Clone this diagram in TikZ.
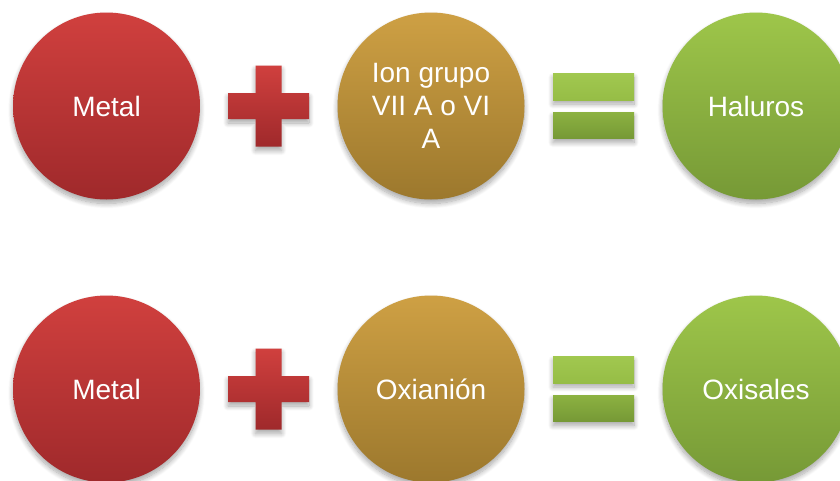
\documentclass[tikz,border=0pt]{standalone}
\usepackage{fontspec}
\setmainfont{Liberation Sans}
\usetikzlibrary{shadows.blur}

\definecolor{redtop}{HTML}{D0403E}
\definecolor{redbot}{HTML}{9F292B}
\definecolor{goldtop}{HTML}{CEA044}
\definecolor{goldbot}{HTML}{9C782D}
\definecolor{greentop}{HTML}{9EC64A}
\definecolor{greenbot}{HTML}{769936}

\tikzset{
  softshadow/.style={blur shadow={shadow xshift=0pt, shadow yshift=-4pt,
      shadow blur radius=5pt, shadow blur steps=10, shadow opacity=35}},
  ball/.style={circle, minimum size=187pt, inner sep=0pt, text=white,
      font=\fontsize{28}{33}\selectfont, align=center, softshadow},
  redball/.style={ball, top color=redtop, bottom color=redbot},
  goldball/.style={ball, top color=goldtop, bottom color=goldbot},
  greenball/.style={ball, top color=greentop, bottom color=greenbot},
  plusbar/.style={top color=redtop, bottom color=redbot, softshadow},
  eqbar/.style={softshadow},
}

\begin{document}
\begin{tikzpicture}[x=1pt, y=-1pt]
  \useasboundingbox (0,0) rectangle (840,480);

  \foreach \row/\cy in {top/106, bot/389} {
    % plus sign
    \coordinate (plus-\row) at (268.5,\cy);
    \path[plusbar] ([shift={(-13,-40.5)}]plus-\row)
      -- ++(26,0) -- ++(0,27.5) -- ++(27.5,0) -- ++(0,26) -- ++(-27.5,0)
      -- ++(0,27.5) -- ++(-26,0) -- ++(0,-27.5) -- ++(-27.5,0) -- ++(0,-26)
      -- ++(27.5,0) -- cycle;
    % equals sign
    \coordinate (eq-\row) at (593.5,\cy);
    \path[eqbar, top color=greentop!97!white, bottom color=greentop!80!greenbot]
      ([shift={(-40.5,-32.5)}]eq-\row) rectangle ++(81,26.5);
    \path[eqbar, top color=greentop!55!greenbot, bottom color=greenbot]
      ([shift={(-40.5,6)}]eq-\row) rectangle ++(81,26.5);
  }

  \node[redball]   (metal1) at (106.5,106) {Metal};
  \node[goldball]  (ion)    at (431,106)   {Ion grupo\\VII A o VI\\A};
  \node[greenball] (haluros) at (756,106)  {Haluros};

  \node[redball]   (metal2)   at (106.5,389) {Metal};
  \node[goldball]  (oxianion) at (431,389)   {Oxianión};
  \node[greenball] (oxisales) at (756,389)   {Oxisales};
\end{tikzpicture}
\end{document}
